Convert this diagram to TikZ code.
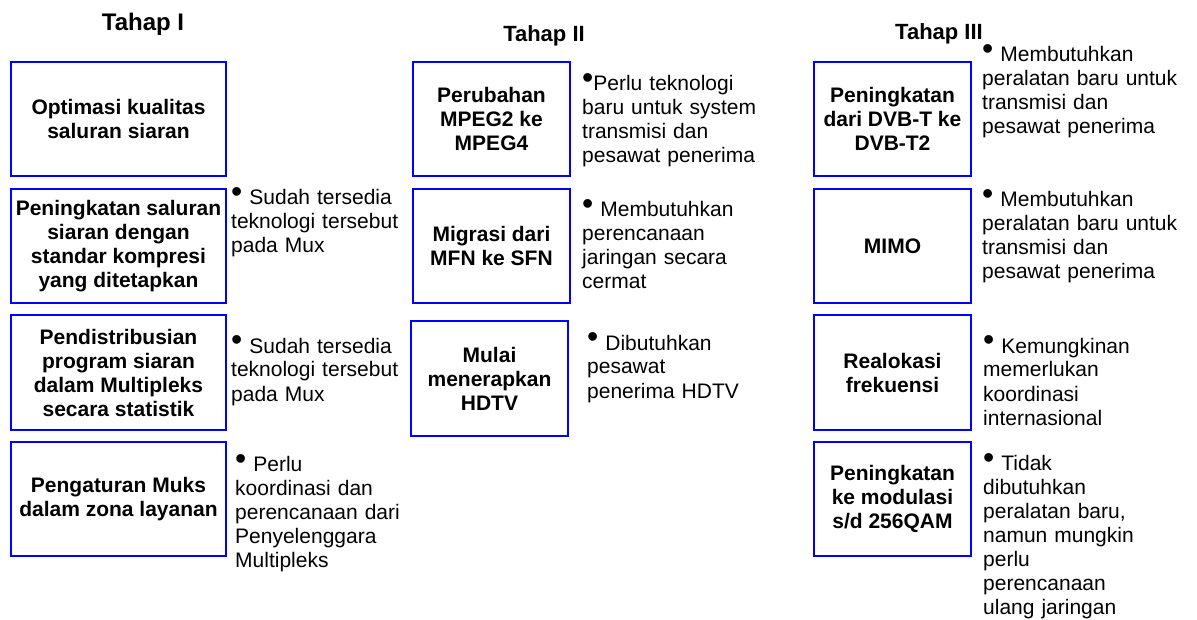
\documentclass[tikz,border=0pt]{standalone}
\usepackage{fontspec}
\setmainfont{Liberation Sans}
\usepackage{xcolor}
\definecolor{StageBlue}{rgb}{0, 0, 1}
\usepackage{tikz}
\usetikzlibrary{positioning}
\newcommand{\notebullet}{\raisebox{2pt}{\fontsize{32}{32}\selectfont\textbullet}}
\tikzset{
	stagebox/.style={draw=StageBlue, line width=2pt, align=center, inner sep=0pt, minimum height=114pt, font=\fontsize{21}{24}\selectfont\bfseries},
	widebox/.style={stagebox, minimum width=215pt},
	narrowbox/.style={stagebox, minimum width=157pt},
	stagenote/.style={anchor=base west, align=left, inner sep=0pt, text width=210pt, font=\fontsize{21}{24}\selectfont},
	stagetitle/.style={anchor=base, inner sep=0pt, font=\fontsize{22}{26}\selectfont\bfseries}
}

\begin{document}
\begin{tikzpicture}[x=1pt, y=-1pt]
	\useasboundingbox (0,0) rectangle (1197,620);
	\node[stagetitle, font=\fontsize{24}{28}\selectfont\bfseries] (t1) at (143,31) {Tahap I};
	\node[stagetitle] (t2) at (544,42) {Tahap II};
	\node[stagetitle] (t3) at (939,40) {Tahap III};
	\node[widebox] (b11) at (118.5,119) {Optimasi kualitas\\saluran siaran};
	\node[widebox] (b12) at (118.5,246) {Peningkatan saluran\\siaran dengan\\standar kompresi\\yang ditetapkan};
	\node[widebox] (b13) at (118.5,372.5) {Pendistribusian\\program siaran\\dalam Multipleks\\secara statistik};
	\node[widebox] (b14) at (118.5,499) {Pengaturan Muks\\dalam zona layanan};
	\node[narrowbox] (b21) at (491.5,119) {Perubahan\\MPEG2 ke\\MPEG4};
	\node[narrowbox] (b22) at (491.5,246) {Migrasi dari\\MFN ke SFN};
	\node[narrowbox, minimum height=115pt] (b23) at (489.5,378.5) {Mulai\\menerapkan\\HDTV};
	\node[narrowbox] (b31) at (892.5,119) {Peningkatan\\dari DVB-T ke\\DVB-T2};
	\node[narrowbox] (b32) at (892.5,246) {MIMO};
	\node[narrowbox] (b33) at (892.5,372.5) {Realokasi\\frekuensi};
	\node[narrowbox] (b34) at (892.5,499) {Peningkatan\\ke modulasi\\s/d 256QAM};
	\node[stagenote] (n12) at (231,205) {\notebullet\ Sudah tersedia\\teknologi tersebut\\pada Mux};
	\node[stagenote] (n13) at (231,353) {\notebullet\ Sudah tersedia\\teknologi tersebut\\pada Mux};
	\node[stagenote] (n14) at (235,471) {\notebullet\ Perlu\\koordinasi dan\\perencanaan dari\\Penyelenggara\\Multipleks};
	\node[stagenote] (n21) at (582,91) {\notebullet Perlu teknologi\\baru untuk system\\transmisi dan\\pesawat penerima};
	\node[stagenote] (n22) at (582,217) {\notebullet\ Membutuhkan\\perencanaan\\jaringan secara\\cermat};
	\node[stagenote] (n23) at (587,350) {\notebullet\ Dibutuhkan\\pesawat\\penerima HDTV};
	\node[stagenote] (n31) at (982,62) {\notebullet\ Membutuhkan\\peralatan baru untuk\\transmisi dan\\pesawat penerima};
	\node[stagenote] (n32) at (982,207) {\notebullet\ Membutuhkan\\peralatan baru untuk\\transmisi dan\\pesawat penerima};
	\node[stagenote] (n33) at (983,353) {\notebullet\ Kemungkinan\\memerlukan\\koordinasi\\internasional};
	\node[stagenote] (n34) at (983,470) {\notebullet\ Tidak\\dibutuhkan\\peralatan baru,\\namun mungkin\\perlu\\perencanaan\\ulang jaringan};
\end{tikzpicture}
\end{document}
